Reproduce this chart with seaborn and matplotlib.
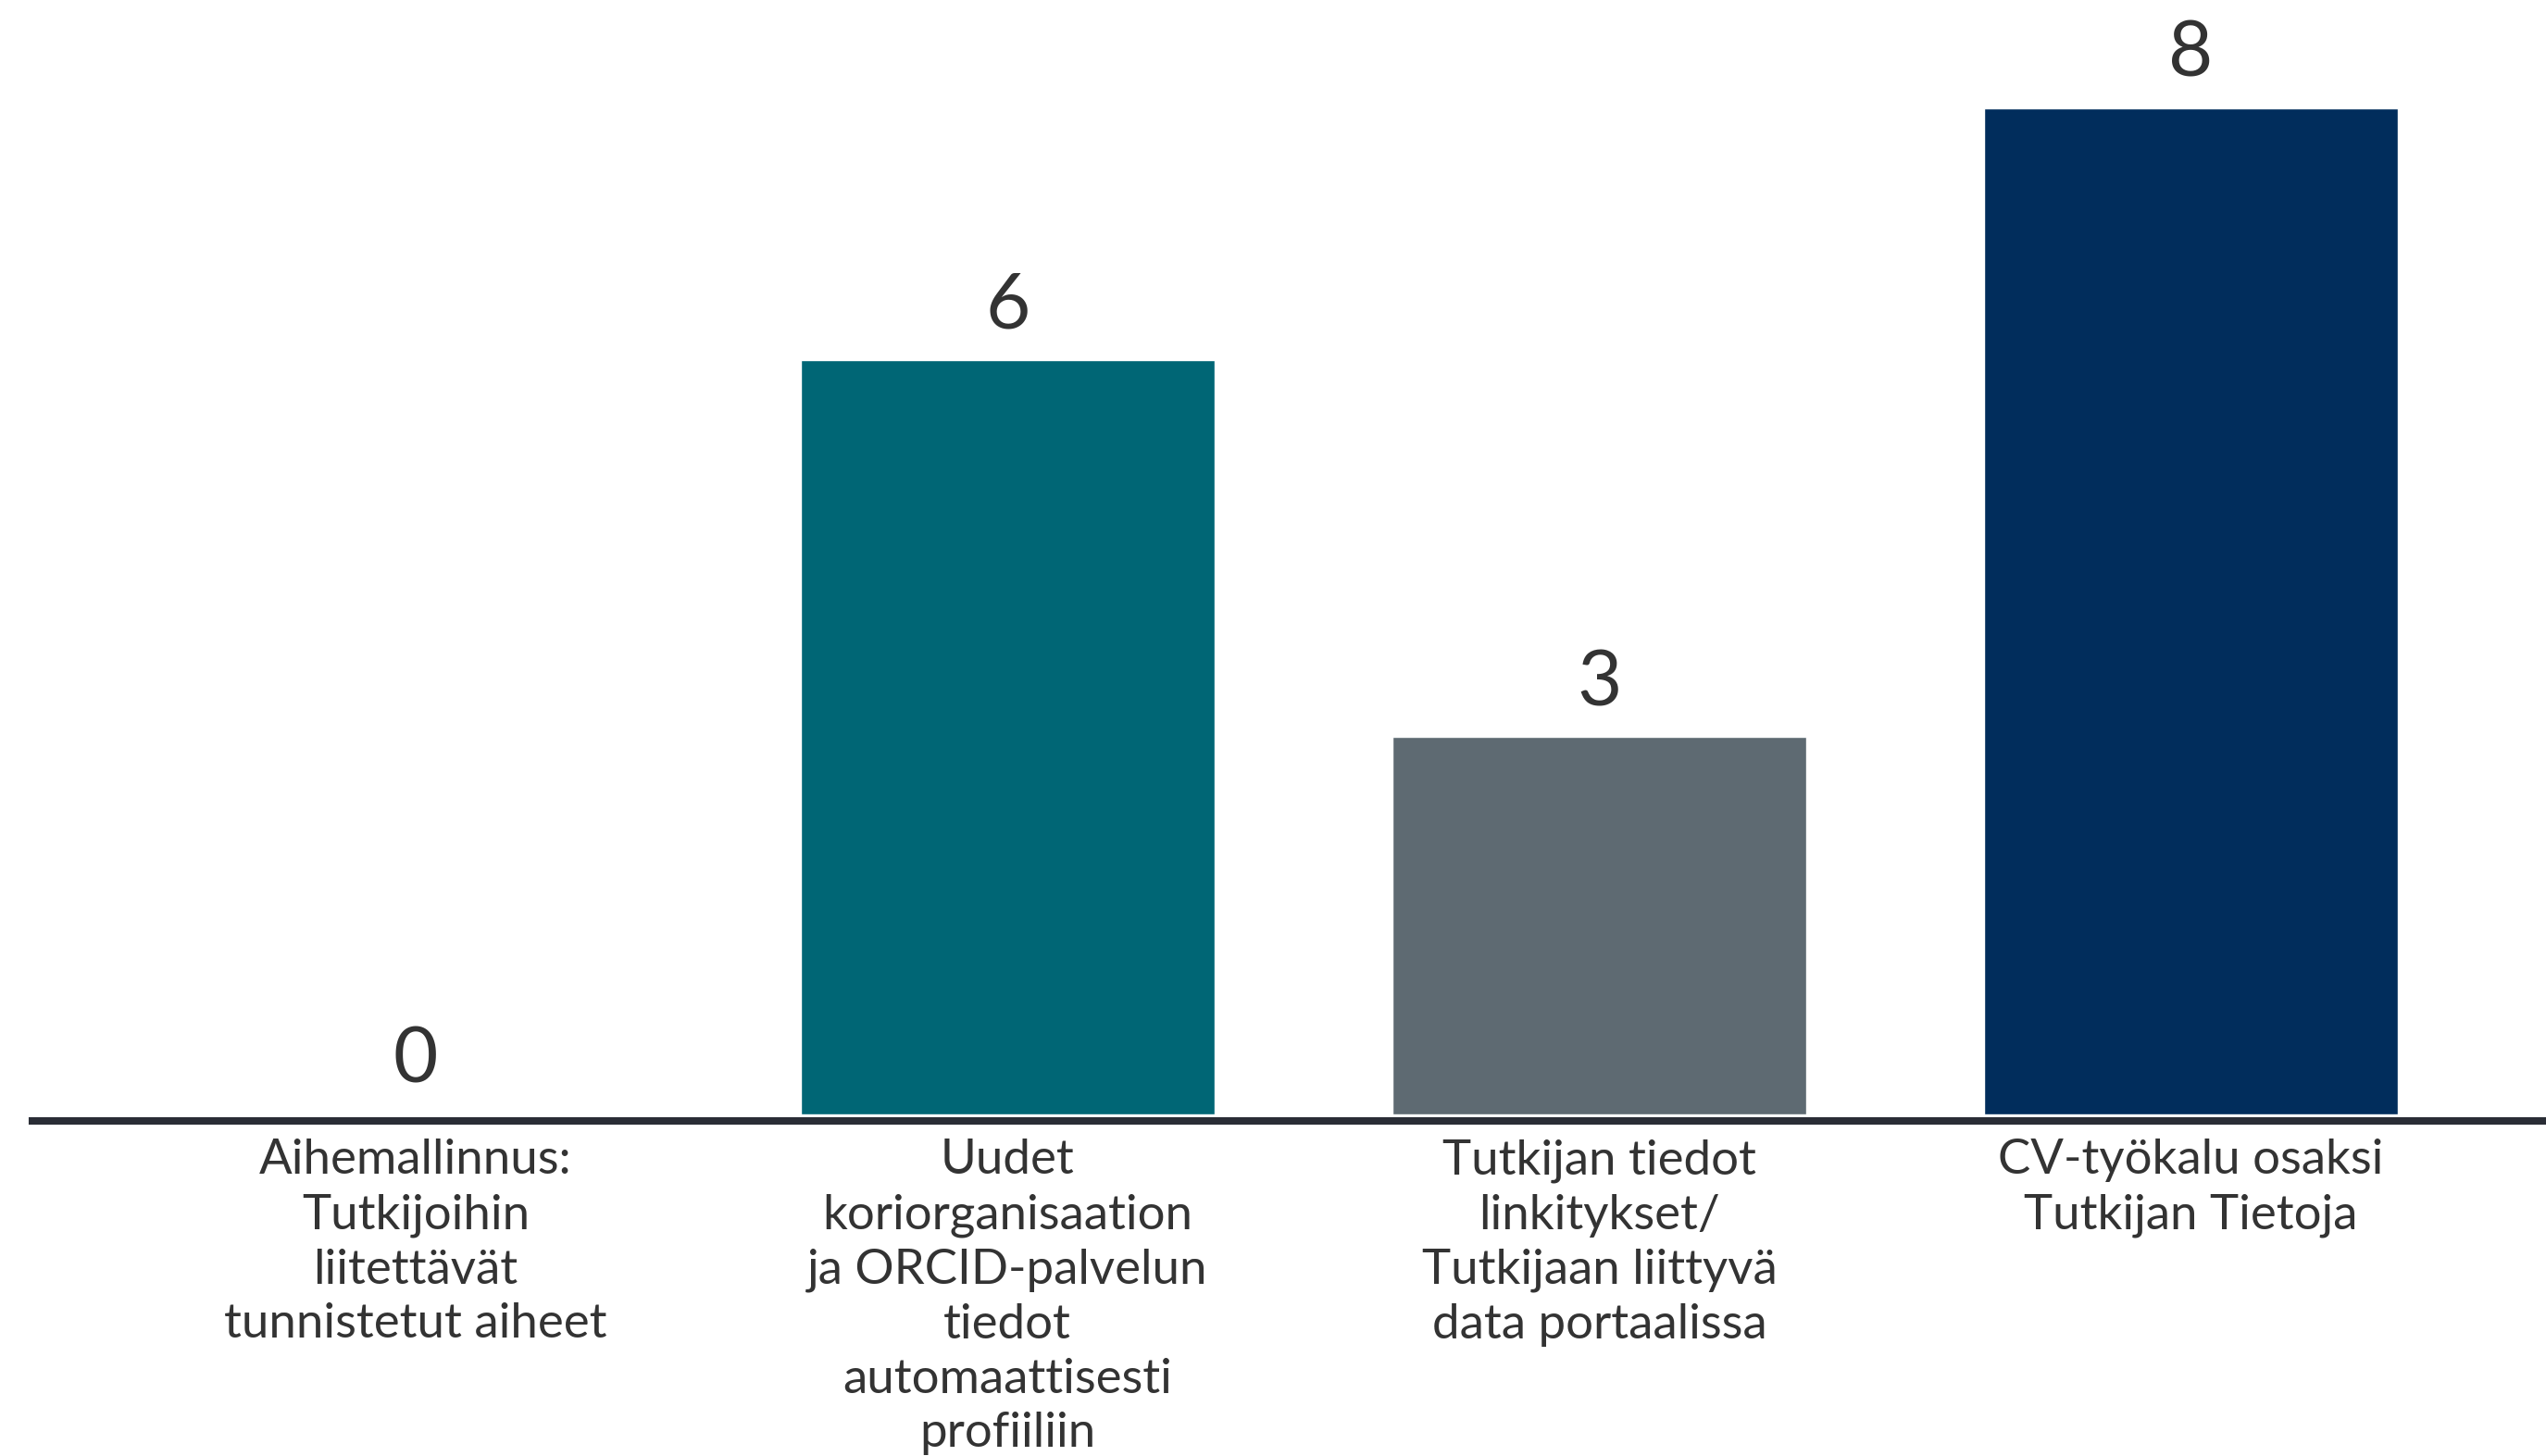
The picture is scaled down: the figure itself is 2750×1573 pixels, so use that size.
import matplotlib
matplotlib.use("Agg")
import matplotlib.pyplot as plt
import seaborn as sns
import pandas as pd

categories = [
    "Aihemallinnus:\nTutkijoihin\nliitettävät\ntunnistetut aiheet",
    "Uudet\nkoriorganisaation\nja ORCID-palvelun\ntiedot\nautomaattisesti\nprofiiliin",
    "Tutkijan tiedot\nlinkitykset/\nTutkijaan liittyvä\ndata portaalissa",
    "CV-työkalu osaksi\nTutkijan Tietoja",
]
values = [0, 6, 3, 8]
colors = ["#006675", "#006675", "#5e6a72", "#012d5c"]

sns.set_theme(style="white")
plt.rcParams["font.family"] = ["Lato", "DejaVu Sans"]

df = pd.DataFrame({"cat": categories, "val": values})

fig = plt.figure(figsize=(27.5, 15.73), dpi=100)
ax = fig.add_axes([35 / 2750, (1573 - 1211) / 1573, 1 - 35 / 2750, 1211 / 1573])
sns.barplot(data=df, x="cat", y="val", hue="cat", palette=colors, legend=False,
            width=0.7, ax=ax, saturation=1)

ax.set_xlim(-0.648, 3.6)
ax.set_ylim(-0.05, 8.86)
for s in ["top", "right", "left"]:
    ax.spines[s].set_visible(False)
ax.spines["bottom"].set_color("#2a2d36")
ax.spines["bottom"].set_linewidth(5.8)
ax.set_yticks([])
ax.set_xlabel("")
ax.set_ylabel("")
ax.tick_params(axis="x", length=0, pad=14, labelsize=38, labelcolor="#333333")
for lbl in ax.get_xticklabels():
    lbl.set_multialignment("center")
    lbl.set_linespacing(1.31)

for cont in ax.containers:
    ax.bar_label(cont, padding=14, fontsize=60, color="#333333")

fig.savefig("out.png", dpi=100, facecolor="white")
